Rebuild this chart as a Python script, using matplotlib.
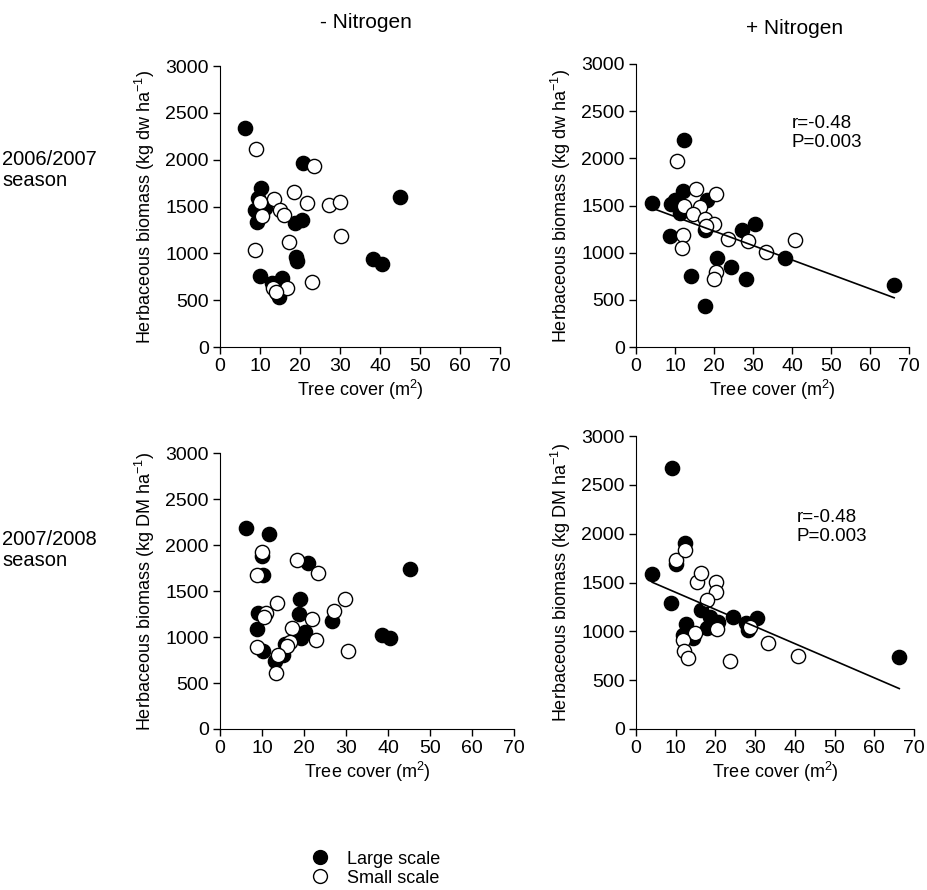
"""
Herbaceous biomass vs tree cover, two seasons, with and without nitrogen.
"""

import matplotlib
matplotlib.use('Agg')
import matplotlib.pyplot as plt
from matplotlib.lines import Line2D

plt.rcParams['font.family'] = ['Liberation Sans', 'DejaVu Sans']
plt.rcParams['mathtext.fontset'] = 'custom'
plt.rcParams['mathtext.rm'] = 'Liberation Sans'
plt.rcParams['mathtext.it'] = 'Liberation Sans:italic'

# 2006/2007 season, - Nitrogen
tl_large_x = [6.3, 20.8, 10.2, 9.6, 8.8, 9.2, 11.3, 18.8, 20.4, 18.9, 19.2,
              10.0, 15.4, 12.9, 14.8, 14.2, 45.1, 38.3, 40.4]
tl_large_y = [2336, 1969, 1696, 1589, 1458, 1330, 1482, 1322, 1358, 960, 921,
              754, 736, 683, 530, 576, 1607, 938, 882]
tl_small_x = [8.9, 23.4, 18.5, 13.5, 10.0, 21.7, 27.2, 29.9, 15.0, 16.1, 10.4,
              30.3, 17.2, 8.8, 22.9, 13.3, 16.7, 14.0]
tl_small_y = [2112, 1934, 1653, 1578, 1543, 1536, 1511, 1546, 1458, 1411, 1404,
              1180, 1120, 1031, 693, 629, 629, 583]

# 2006/2007 season, + Nitrogen
tr_large_x = [4.1, 9.1, 10.0, 11.4, 12.1, 12.3, 8.7, 14.1, 18.1, 17.7, 20.7,
              24.3, 27.3, 30.4, 28.1, 17.8, 38.1, 66.2]
tr_large_y = [1525, 1518, 1560, 1419, 1655, 2195, 1172, 755, 1560, 1242, 939,
              843, 1242, 1299, 723, 438, 942, 660]
tr_small_x = [10.4, 15.5, 20.4, 16.5, 12.3, 14.7, 17.7, 20.1, 17.9, 12.1, 11.9,
              23.7, 28.8, 33.3, 40.8, 20.5, 20.1]
tr_small_y = [1976, 1680, 1620, 1489, 1496, 1412, 1355, 1302, 1278, 1189, 1048,
              1143, 1119, 1002, 1136, 794, 723]

# 2007/2008 season, - Nitrogen
bl_large_x = [6.3, 11.7, 9.9, 10.3, 20.9, 19.0, 18.9, 9.0, 8.9, 10.2, 20.2,
              19.3, 26.6, 13.1, 15.1, 15.5, 38.5, 40.5, 45.2]
bl_large_y = [2188, 2119, 1876, 1669, 1803, 1411, 1252, 1266, 1088, 853, 1059,
              987, 1172, 744, 805, 925, 1023, 990, 1738]
bl_small_x = [10.0, 8.9, 18.4, 23.4, 13.5, 11.0, 10.5, 21.8, 17.2, 27.2, 29.8,
              22.9, 16.7, 16.0, 8.7, 13.9, 13.3, 30.5]
bl_small_y = [1919, 1669, 1839, 1694, 1375, 1259, 1212, 1194, 1103, 1284, 1415,
              965, 951, 903, 889, 802, 606, 853]

# 2007/2008 season, + Nitrogen
br_large_x = [9.0, 4.1, 8.7, 10.2, 12.3, 12.5, 11.9, 14.4, 16.5, 17.8, 18.6,
              20.7, 24.5, 27.7, 28.3, 30.4, 66.3]
br_large_y = [2669, 1584, 1287, 1689, 1901, 1075, 962, 928, 1218, 1031, 1150,
              1099, 1150, 1082, 1014, 1140, 734]
br_small_x = [10.2, 12.3, 15.3, 16.5, 20.1, 20.1, 17.8, 14.9, 11.9, 12.2, 13.2,
              20.5, 28.7, 33.3, 40.9, 23.8]
br_small_y = [1730, 1833, 1509, 1594, 1509, 1399, 1321, 980, 911, 802, 730,
              1020, 1048, 877, 751, 700]

# regression lines (intercept, slope)
tr_fit = (1535, -15.3)
br_fit = (1574, -17.5)
stats_text = 'r=-0.48\nP=0.003'

x_ticks = [0, 10, 20, 30, 40, 50, 60, 70]
y_ticks = [0, 500, 1000, 1500, 2000, 2500, 3000]

FS_TICK = 14
FS_LAB = 13
FS_HEAD = 15


def style_axes(ax, ylabel):
    ax.set_xlim(0, 70)
    ax.set_ylim(0, 3000)
    ax.set_xticks(x_ticks)
    ax.set_yticks(y_ticks)
    for side in ('top', 'right'):
        ax.spines[side].set_visible(False)
    ax.tick_params(direction='out', length=5, width=1, labelsize=FS_TICK, pad=3)
    ax.set_xlabel('Tree cover (m$^{2}$)', fontsize=FS_LAB, labelpad=2)
    ax.set_ylabel(ylabel, fontsize=FS_LAB, labelpad=6)


def draw_points(ax, lx, ly, sx, sy):
    ax.scatter(lx, ly, s=105, c='black', edgecolors='black', linewidths=1,
               zorder=3, clip_on=False)
    ax.scatter(sx, sy, s=105, c='white', edgecolors='black', linewidths=1,
               zorder=4, clip_on=False)


def draw_fit(ax, fit, xs):
    x0, x1 = min(xs), max(xs)
    ax.plot([x0, x1], [fit[0] + fit[1] * x0, fit[0] + fit[1] * x1],
            color='black', lw=1.2, zorder=5)


fig = plt.figure(figsize=(9.28, 8.9), dpi=100)

ylab_dw = 'Herbaceous biomass (kg dw ha$^{-1}$)'
ylab_dm = 'Herbaceous biomass (kg DM ha$^{-1}$)'

ax_tl = fig.add_axes([0.2371, 0.6101, 0.3017, 0.3157])
ax_tr = fig.add_axes([0.6853, 0.6101, 0.2942, 0.3180])
ax_bl = fig.add_axes([0.2371, 0.1809, 0.3168, 0.3101])
ax_br = fig.add_axes([0.6853, 0.1809, 0.2996, 0.3292])

draw_points(ax_tl, tl_large_x, tl_large_y, tl_small_x, tl_small_y)
style_axes(ax_tl, ylab_dw)

draw_points(ax_tr, tr_large_x, tr_large_y, tr_small_x, tr_small_y)
draw_fit(ax_tr, tr_fit, tr_large_x + tr_small_x)
ax_tr.text(40, 2270, stats_text, fontsize=FS_LAB + 0.5, va='center',
           ha='left', linespacing=1.2)
style_axes(ax_tr, ylab_dw)

draw_points(ax_bl, bl_large_x, bl_large_y, bl_small_x, bl_small_y)
style_axes(ax_bl, ylab_dm)

draw_points(ax_br, br_large_x, br_large_y, br_small_x, br_small_y)
draw_fit(ax_br, br_fit, br_large_x + br_small_x)
ax_br.text(40.5, 2070, stats_text, fontsize=FS_LAB + 0.5, va='center',
           ha='left', linespacing=1.2)
style_axes(ax_br, ylab_dm)

# column and row headers
fig.text(366 / 928, 1 - 22 / 890, '- Nitrogen', fontsize=FS_HEAD,
         ha='center', va='center')
fig.text(795 / 928, 1 - 28 / 890, '+ Nitrogen', fontsize=FS_HEAD,
         ha='center', va='center')
fig.text(2 / 928, 1 - 170 / 890, '2006/2007\nseason', fontsize=FS_TICK + 0.5,
         ha='left', va='center', linespacing=1.15)
fig.text(2 / 928, 1 - 550 / 890, '2007/2008\nseason', fontsize=FS_TICK + 0.5,
         ha='left', va='center', linespacing=1.15)

handles = [Line2D([], [], ls='none', marker='o', ms=10, mfc='black', mec='black'),
           Line2D([], [], ls='none', marker='o', ms=10, mfc='white', mec='black')]
fig.legend(handles, ['Large scale', 'Small scale'], loc='center left',
           bbox_to_anchor=(0.325, 0.024), frameon=False, fontsize=FS_LAB,
           handletextpad=1.0, labelspacing=0.1, borderpad=0, handlelength=1.0)

fig.savefig('out.png', dpi=100)
